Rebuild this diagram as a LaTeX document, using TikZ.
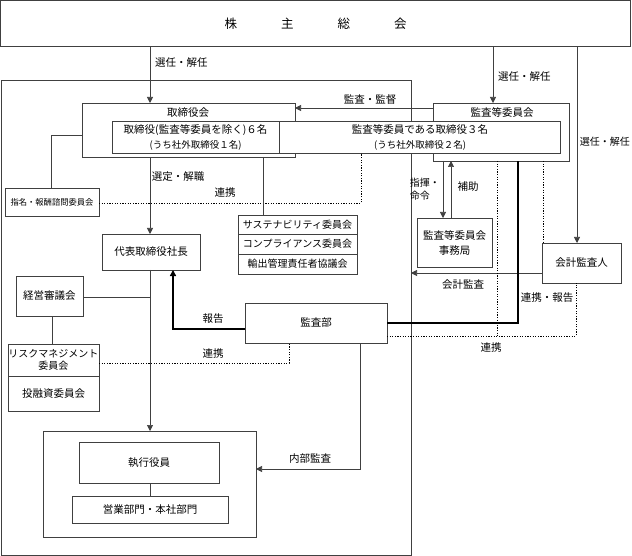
\documentclass[tikz,border=0pt]{standalone}
\usepackage{fontspec}
\setmainfont{Noto Sans CJK JP}
\usetikzlibrary{arrows.meta}
\tikzset{
  box/.style={draw=black!75, line width=0.7pt, fill=white, inner sep=0pt, align=center, font=\fontsize{10.5}{13}\selectfont},
  conn/.style={draw=black!75, line width=0.7pt},
  thick conn/.style={draw=black, line width=1.8pt},
  dots/.style={draw=black, line width=0.9pt, dash pattern=on 1.2pt off 1.4pt},
  arr/.style={-{Triangle[length=6pt,width=6pt]}},
  lbl/.style={font=\fontsize{10.5}{12}\selectfont, inner sep=0pt},
}
\newcommand{\bx}[6]{%
  \pgfmathsetmacro\bxw{#4-#2}\pgfmathsetmacro\bxh{#5-#3}%
  \pgfmathsetmacro\bxcx{(#2+#4)/2}\pgfmathsetmacro\bxcy{(#3+#5)/2}%
  \node[box,#6,minimum width=\bxw pt,minimum height=\bxh pt] (#1) at (\bxcx,\bxcy) {};}
\begin{document}
\begin{tikzpicture}[x=1pt,y=-1pt]
\useasboundingbox (0,0) rectangle (632,556);
% frame
\bx{frame}{1}{80}{411}{555}{fill=none}
% shareholders meeting
\node[box, minimum width=630pt, minimum height=46pt, font=\fontsize{12.5}{14}\selectfont] (gm) at (315.5,23.5) {株\hspace{44pt}主\hspace{44pt}総\hspace{44pt}会};
% board
\bx{bod}{82}{103}{295}{157}{}
\node[lbl] at (188,113) {取締役会};
\bx{ac}{433}{103}{569}{161}{}
\node[lbl] at (502,113) {監査等委員会};
% strip
\bx{stripL}{112}{121}{279}{153}{}
\bx{stripR}{279}{121}{560}{153}{}
\node[lbl, align=center, font=\fontsize{10.5}{15}\selectfont] at (195.5,137) {取締役(監査等委員を除く)６名\\{\fontsize{9.5}{11}\selectfont (うち社外取締役１名)}};
\node[lbl, align=center, font=\fontsize{10.5}{15}\selectfont] at (420,137) {監査等委員である取締役３名\\{\fontsize{9.5}{11}\selectfont (うち社外取締役２名)}};
% other boxes
\bx{nom}{5}{188}{99}{216}{}
\node[lbl, font=\fontsize{8.3}{10}\selectfont] at (52,202) {指名・報酬諮問委員会};
\bx{sus}{238}{215}{357}{234}{}
\node[lbl, font=\fontsize{10}{12}\selectfont] at (297.5,224.5) {サステナビリティ委員会};
\bx{comp}{238}{234}{357}{254}{}
\node[lbl, font=\fontsize{10}{12}\selectfont] at (297.5,244) {コンプライアンス委員会};
\bx{exp}{238}{254}{357}{274}{}
\node[lbl, font=\fontsize{10}{12}\selectfont] at (297.5,264) {輸出管理責任者協議会};
\bx{pres}{102}{234}{200}{270}{}
\node[lbl] at (151,252) {代表取締役社長};
\bx{mgmt}{16}{276}{83}{316}{}
\node[lbl] at (49.5,296) {経営審議会};
\bx{risk}{8}{344}{99}{376}{}
\node[lbl, align=center, font=\fontsize{10}{12.5}\selectfont] at (53.5,360) {リスクマネジメント\\委員会};
\bx{inv}{8}{376}{99}{411}{}
\node[lbl] at (53.5,393.5) {投融資委員会};
\bx{audit}{245}{303}{387}{343}{}
\node[lbl] at (316,323) {監査部};
\bx{sec}{417}{218}{492}{267}{}
\node[lbl, align=center, font=\fontsize{10.5}{15}\selectfont] at (454.5,242.5) {監査等委員会\\事務局};
\bx{ext}{542}{243}{621}{283}{}
\node[lbl] at (581.5,263) {会計監査人};
\bx{exec}{43}{431}{256}{537}{}
\bx{off}{79}{442}{219}{483}{}
\node[lbl] at (149,462.5) {執行役員};
\bx{dept}{72}{496}{228}{523}{}
\node[lbl] at (150,509.5) {営業部門・本社部門};
% coordinates
\coordinate (a1) at (150,47);
\coordinate (a2) at (493,47);
\coordinate (a3) at (577,47);
% connectors
\draw[conn,arr] (a1) -- (150,103);
\node[lbl, anchor=west] at (155,63) {選任・解任};
\draw[conn,arr] (a2) -- (493,103);
\node[lbl, anchor=west] at (498,77) {選任・解任};
\draw[conn,arr] (a3) -- (577,243);
\node[lbl, anchor=east, font=\fontsize{10}{12}\selectfont] at (630,142) {選任・解任};
\draw[conn,arr] (433,108) -- (295,108);
\node[lbl] at (370,100) {監査・監督};
\draw[conn,arr] (150,157) -- (150,234);
\node[lbl] at (178,177) {選定・解職};
\node[lbl] at (225,193) {連携};
\draw[conn] (51,188) |- (82,135);
\draw[dots] (99,203) -| (361,153);
\draw[conn] (263,157) -- (263,215);
\draw[conn] (83,297) -- (150,297);
\draw[conn,arr] (150,270) -- (150,431);
\draw[conn] (52,316) -- (52,344);
\draw[dots] (99,363) -| (289,343);
\node[lbl] at (213,354) {連携};
\draw[thick conn,arr] (245,329) -| (173,270);
\node[lbl] at (213,319) {報告};
\draw[conn,arr] (360,343) |- (256,469);
\node[lbl] at (310,459) {内部監査};
\draw[conn] (150,483) -- (150,496);
% audit committee side
\draw[conn,arr] (443,161) -- (443,218);
\draw[conn,arr] (451,218) -- (451,161);
\node[lbl, align=left, anchor=east, font=\fontsize{10}{13}\selectfont] at (440,189) {指揮・\\命令};
\node[lbl] at (468,187) {補助};
\draw[conn,arr] (542,273) -- (411,273);
\node[lbl] at (463,285) {会計監査};
\draw[thick conn] (387,323) -| (518,161);
\draw[dots] (387,336) -| (576,283);
\draw[dots] (497,161) -- (497,336);
\draw[dots] (543,161) -- (543,243);
\node[lbl] at (547,298) {連携・報告};
\node[lbl] at (491,348) {連携};
\end{tikzpicture}
\end{document}
